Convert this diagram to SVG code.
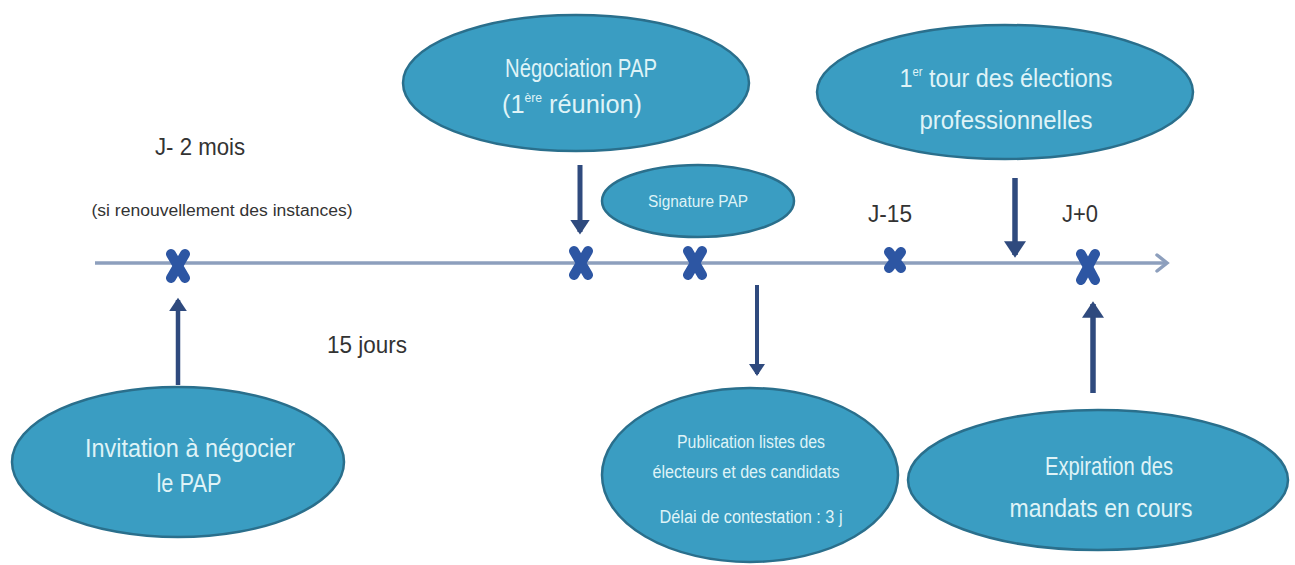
<svg xmlns="http://www.w3.org/2000/svg" width="1295" height="565" viewBox="0 0 1295 565">
<style>
.node ellipse{fill:#3a9dc2;stroke:#2a6f8c;stroke-width:2.5}
.nt{font-family:"Liberation Sans Narrow","Liberation Sans",sans-serif;fill:#dff3f7;text-anchor:middle}
.lbl{font-family:"Liberation Sans Narrow","Liberation Sans",sans-serif;fill:#333;text-anchor:middle}
.conn{stroke:#2f4a7e;fill:none}
.x{stroke:#2d56a3;stroke-width:10;stroke-linecap:round;fill:none}
</style>
<defs>
<marker id="ah" markerWidth="4" markerHeight="4" refX="2.5" refY="2" orient="auto" markerUnits="strokeWidth">
<path d="M0,0 L3,2 L0,4 z" fill="#2f4a7e"/>
</marker>
</defs>
<rect width="1295" height="565" fill="#ffffff"/>
<g id="timeline">
<line x1="95" y1="263" x2="1166" y2="263" stroke="#8d9fbd" stroke-width="3.5"/>
<polyline points="1157,255 1167,263 1157,271" stroke="#8d9fbd" stroke-width="3.5" fill="none" stroke-linecap="round"/>
</g>
<g id="connectors">
<line class="conn" x1="178" y1="385" x2="178" y2="300" stroke-width="4.5" marker-end="url(#ah)"/>
<line class="conn" x1="580" y1="165" x2="580" y2="232" stroke-width="5" marker-end="url(#ah)"/>
<line class="conn" x1="757" y1="285" x2="757" y2="374" stroke-width="4" marker-end="url(#ah)"/>
<line class="conn" x1="1015" y1="178" x2="1015" y2="255" stroke-width="5.5" marker-end="url(#ah)"/>
<line class="conn" x1="1093" y1="393" x2="1093" y2="304" stroke-width="5.5" marker-end="url(#ah)"/>
</g>
<g id="markers">
<path class="x" d="M171,254 L185,278 M185,254 L171,278"/>
<path class="x" d="M574,251 L588,275 M588,251 L574,275"/>
<path class="x" d="M688,251 L702,275 M702,251 L688,275"/>
<path class="x" d="M889,252 L901,268 M901,252 L889,268"/>
<path class="x" d="M1081,254 L1095,280 M1095,254 L1081,280"/>
</g>
<g id="labels">
<text class="lbl" x="200" y="155" font-size="24" textLength="90" lengthAdjust="spacingAndGlyphs">J- 2 mois</text>
<text class="lbl" x="222" y="216" font-size="16" textLength="261" lengthAdjust="spacingAndGlyphs">(si renouvellement des instances)</text>
<text class="lbl" x="367" y="353" font-size="24" textLength="80" lengthAdjust="spacingAndGlyphs">15 jours</text>
<text class="lbl" x="890" y="222" font-size="23" textLength="44" lengthAdjust="spacingAndGlyphs">J-15</text>
<text class="lbl" x="1080" y="222" font-size="23" textLength="36" lengthAdjust="spacingAndGlyphs">J+0</text>
</g>
<g id="negociation" class="node">
<ellipse cx="576" cy="83" rx="173" ry="68"/>
<text class="nt" x="581" y="77" font-size="25" textLength="152" lengthAdjust="spacingAndGlyphs">Négociation PAP</text>
<text class="nt" x="572" y="113" font-size="25" textLength="140" lengthAdjust="spacingAndGlyphs">(1<tspan font-size="12" dy="-11">ère</tspan><tspan dy="11"> réunion)</tspan></text>
</g>
<g id="premier-tour" class="node">
<ellipse cx="1005" cy="92" rx="188" ry="67"/>
<text class="nt" x="1006" y="87" font-size="25" textLength="213" lengthAdjust="spacingAndGlyphs">1<tspan font-size="12" dy="-11">er</tspan><tspan dy="11"> tour des élections</tspan></text>
<text class="nt" x="1006" y="129" font-size="25" textLength="173" lengthAdjust="spacingAndGlyphs">professionnelles</text>
</g>
<g id="signature" class="node">
<ellipse cx="698" cy="201" rx="96" ry="36"/>
<text class="nt" x="698" y="207" font-size="16" textLength="100" lengthAdjust="spacingAndGlyphs">Signature PAP</text>
</g>
<g id="invitation" class="node">
<ellipse cx="178" cy="462" rx="166" ry="75"/>
<text class="nt" x="190" y="457" font-size="25" textLength="210" lengthAdjust="spacingAndGlyphs">Invitation à négocier</text>
<text class="nt" x="189" y="492" font-size="25" textLength="65" lengthAdjust="spacingAndGlyphs">le PAP</text>
</g>
<g id="publication" class="node">
<ellipse cx="750" cy="475" rx="148" ry="87"/>
<text class="nt" x="751" y="448" font-size="18" textLength="148" lengthAdjust="spacingAndGlyphs">Publication listes des</text>
<text class="nt" x="746" y="478" font-size="18" textLength="187" lengthAdjust="spacingAndGlyphs">électeurs et des candidats</text>
<text class="nt" x="751" y="523" font-size="18" textLength="183" lengthAdjust="spacingAndGlyphs">Délai de contestation : 3 j</text>
</g>
<g id="expiration" class="node">
<ellipse cx="1098" cy="480" rx="190" ry="70"/>
<text class="nt" x="1109" y="475" font-size="25" textLength="128" lengthAdjust="spacingAndGlyphs">Expiration des</text>
<text class="nt" x="1101" y="517" font-size="25" textLength="183" lengthAdjust="spacingAndGlyphs">mandats en cours</text>
</g>
</svg>
